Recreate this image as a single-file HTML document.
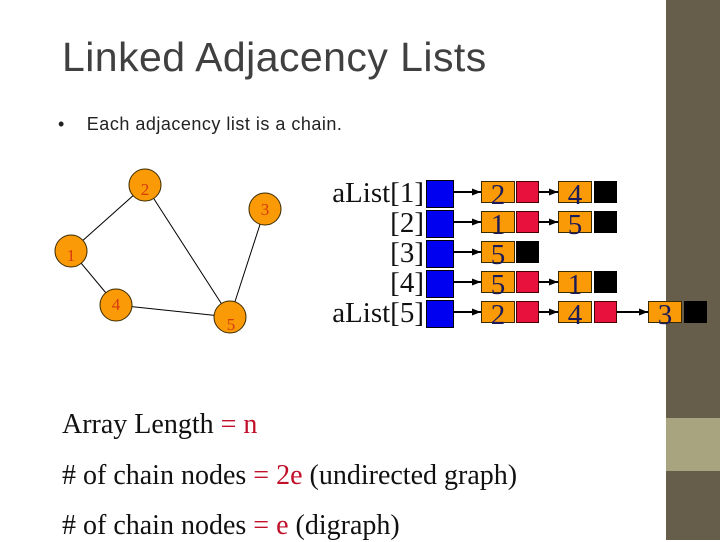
<!DOCTYPE html>
<html><head><style>
body{margin:0;width:720px;height:540px;position:relative;overflow:hidden;background:#fff;font-family:"Liberation Serif",serif}
.a{position:absolute}
.t{position:absolute;white-space:nowrap}
.b{position:absolute;background:#0000f0;border:1px solid #000;box-sizing:border-box;width:28px;height:28px;left:426px}
.o{position:absolute;background:#f99a06;border:1px solid #3a2a00;box-sizing:border-box;width:34px;height:22px;color:#1a1a5a;font-size:29px;text-align:center;line-height:27px}
.r{position:absolute;background:#e8103c;border:1px solid #400;box-sizing:border-box;width:23px;height:22px}
.k{position:absolute;background:#000;width:23px;height:22px}
.lab{position:absolute;right:296px;font-size:29px;color:#111;line-height:30px;text-align:right}
.rd{color:#c0102a}
</style></head><body>
<div class="a" style="left:666px;top:0;width:54px;height:540px;background:#665e4a"></div>
<div class="a" style="left:666px;top:418px;width:54px;height:53px;background:#a8a47f"></div>
<div class="t" style="left:62px;top:34px;font-family:'Liberation Sans',sans-serif;font-size:41px;color:#404040;letter-spacing:0.45px">Linked Adjacency Lists</div>
<div class="t" style="left:58px;top:114px;font-family:'Liberation Sans',sans-serif;font-size:18px;color:#222;letter-spacing:0.5px">•&nbsp;&nbsp;&nbsp; Each adjacency list is a chain.</div>

<svg class="a" style="left:0;top:0" width="720" height="540">
<g stroke="#000" stroke-width="1">
<line x1="71" y1="251" x2="145" y2="185"/><line x1="145" y1="185" x2="230" y2="317"/>
<line x1="265" y1="209" x2="230" y2="317"/><line x1="71" y1="251" x2="116" y2="305"/>
<line x1="116" y1="305" x2="230" y2="317"/>
</g>
<g fill="#f99a06" stroke="#3a2a00" stroke-width="1">
<circle cx="145" cy="185" r="16"/><circle cx="265" cy="209" r="16"/><circle cx="71" cy="251" r="16"/><circle cx="116" cy="305" r="16"/><circle cx="230" cy="317" r="16"/>
</g>
<g fill="#d83a10" font-family="Liberation Serif" font-size="17" text-anchor="middle">
<text x="145" y="195">2</text><text x="265" y="215">3</text><text x="71" y="261">1</text><text x="116" y="310">4</text><text x="231" y="330">5</text>
</g>
<defs><marker id="m" markerWidth="9" markerHeight="7" refX="9" refY="3.5" orient="auto" markerUnits="userSpaceOnUse"><path d="M0,0L9,3.5L0,7z" fill="#000"/></marker></defs>
<g stroke="#000" stroke-width="2" marker-end="url(#m)">
<line x1="440" y1="192" x2="481" y2="192"/><line x1="440" y1="222" x2="481" y2="222"/><line x1="440" y1="252" x2="481" y2="252"/><line x1="440" y1="282" x2="481" y2="282"/><line x1="440" y1="312" x2="481" y2="312"/>
<line x1="527" y1="192" x2="558" y2="192"/><line x1="527" y1="222" x2="558" y2="222"/><line x1="527" y1="282" x2="558" y2="282"/><line x1="527" y1="312" x2="558" y2="312"/>
<line x1="606" y1="312" x2="648" y2="312"/>
</g>
</svg>

<div class="lab" style="top:178px">aList[1]</div>
<div class="lab" style="top:208px">[2]</div>
<div class="lab" style="top:238px">[3]</div>
<div class="lab" style="top:268px">[4]</div>
<div class="lab" style="top:298px">aList[5]</div>

<div class="b" style="top:180px"></div><div class="b" style="top:210px"></div><div class="b" style="top:240px"></div><div class="b" style="top:270px"></div><div class="b" style="top:300px"></div>

<div class="o" style="left:481px;top:181px">2</div><div class="r" style="left:516px;top:181px"></div>
<div class="o" style="left:558px;top:181px">4</div><div class="k" style="left:594px;top:181px"></div>
<div class="o" style="left:481px;top:211px">1</div><div class="r" style="left:516px;top:211px"></div>
<div class="o" style="left:558px;top:211px">5</div><div class="k" style="left:594px;top:211px"></div>
<div class="o" style="left:481px;top:241px">5</div><div class="k" style="left:516px;top:241px"></div>
<div class="o" style="left:481px;top:271px">5</div><div class="r" style="left:516px;top:271px"></div>
<div class="o" style="left:558px;top:271px">1</div><div class="k" style="left:594px;top:271px"></div>
<div class="o" style="left:481px;top:301px">2</div><div class="r" style="left:516px;top:301px"></div>
<div class="o" style="left:558px;top:301px">4</div><div class="r" style="left:594px;top:301px"></div>
<div class="o" style="left:648px;top:301px">3</div><div class="k" style="left:684px;top:301px"></div>

<div class="t" style="left:62px;top:409px;font-size:28px;color:#111">Array Length <span class="rd">= n</span></div>
<div class="t" style="left:62px;top:460px;font-size:28px;color:#111"># of chain nodes <span class="rd">= 2e</span> (undirected graph)</div>
<div class="t" style="left:62px;top:510px;font-size:28px;color:#111"># of chain nodes <span class="rd">= e</span> (digraph)</div>
</body></html>
